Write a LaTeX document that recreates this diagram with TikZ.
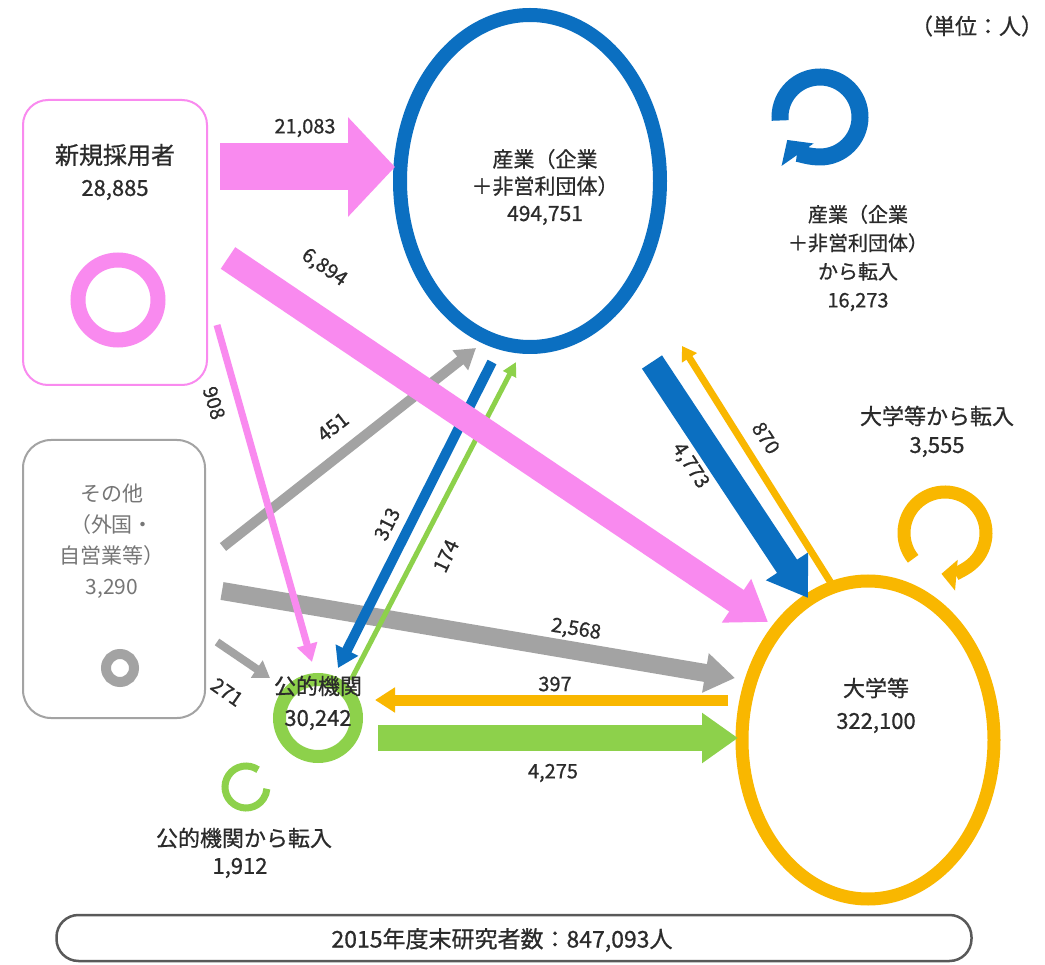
\documentclass[tikz,border=0pt]{standalone}
\usepackage{fontspec}
\setmainfont{Noto Sans CJK JP}
\newfontfamily\jpb{Noto Sans CJK JP}[FakeBold=0.8]
\usetikzlibrary{arrows.meta,shapes.geometric}
\definecolor{cpink}{HTML}{F98AEF}
\definecolor{cblue}{HTML}{0B6FC1}
\definecolor{corange}{HTML}{F9B700}
\definecolor{cgreen}{HTML}{8DD14B}
\definecolor{cgray}{HTML}{A3A3A3}
\definecolor{ctext}{HTML}{2B2B2B}
\definecolor{cgtext}{HTML}{767676}
\tikzset{
  txt/.style={text=ctext, inner sep=0pt, align=center, font=\jpb\fontsize{22}{29}\selectfont},
  num/.style={text=ctext, inner sep=0pt, font=\jpb\fontsize{20}{24}\selectfont},
  arr/.style n args={4}{draw=#1, line width=#2, arrows={-Triangle[length=#3,width=#4]}},
  ring/.style={draw=#1, fill=none},
}
\begin{document}
\begin{tikzpicture}[x=1pt,y=-1pt]
\useasboundingbox (0,0) rectangle (1045,965);
\fill[white] (0,0) rectangle (1045,965);

% boxes
\node[draw=cpink, line width=2pt, rounded corners=25pt, minimum width=184pt, minimum height=285pt] (newbox) at (115,242.5) {};
\node[draw=cgray, line width=2pt, rounded corners=28pt, minimum width=182pt, minimum height=278pt] (othbox) at (114,579) {};
\node[circle, ring=cpink, line width=15pt, minimum size=80pt, inner sep=0pt] (newring) at (118,300) {};
\node[circle, ring=cgray, line width=10pt, minimum size=28pt, inner sep=0pt] (othring) at (120,668) {};

% main circles
\node[ellipse, ring=cblue, line width=14pt, minimum width=260pt, minimum height=332pt, inner sep=0pt] (ind) at (530,181) {};
\node[ellipse, ring=corange, line width=13pt, minimum width=252pt, minimum height=318pt, inner sep=0pt] (univ) at (868,740) {};
\node[circle, ring=cgreen, line width=13pt, minimum size=77pt, inner sep=0pt] (pub) at (318,718) {};

% loops
\coordinate (bl) at (820,117);
\coordinate (ol) at (945,533);
\coordinate (gl) at (246,787);
\draw[cblue, line width=17pt, arrows={-Triangle[length=18pt,width=38pt]}]
  ([shift={(185:40pt)}]bl) arc[start angle=185, end angle=-145, radius=40pt];
\draw[corange, line width=13pt, arrows={-Triangle[length=15pt,width=30pt]}]
  ([shift={(219:41pt)}]ol) arc[start angle=219, end angle=-95, radius=41pt];
\draw[cgreen, line width=7pt]
  ([shift={(55:21pt)}]gl) arc[start angle=55, end angle=355, radius=21pt];

% arrow end points
\coordinate (a1s) at (220,167);  \coordinate (a1e) at (395,167);
\coordinate (a2s) at (228,258);  \coordinate (a2e) at (768,622);
\coordinate (a3s) at (217,325);  \coordinate (a3e) at (312,662);
\coordinate (a4s) at (223,547);  \coordinate (a4e) at (476,348);
\coordinate (a5s) at (222,591);  \coordinate (a5e) at (735,678);
\coordinate (a6s) at (217,642);  \coordinate (a6e) at (270,678);
\coordinate (a7s) at (492,362);  \coordinate (a7e) at (338,668);
\coordinate (a8s) at (351,680);  \coordinate (a8e) at (516,362);
\coordinate (a9s) at (652,362);  \coordinate (a9e) at (808,598);
\coordinate (a10s) at (831,583); \coordinate (a10e) at (682,346);
\coordinate (a11s) at (728,700); \coordinate (a11e) at (375,700);
\coordinate (a12s) at (378,738); \coordinate (a12e) at (738,738);

% gray flows
\draw[arr={cgray}{10pt}{20pt}{24pt}] (a4s) -- (a4e);
\draw[arr={cgray}{18pt}{30pt}{38pt}] (a5s) -- (a5e);
\draw[arr={cgray}{8pt}{16pt}{20pt}] (a6s) -- (a6e);
% public <-> industry
\draw[arr={cblue}{10pt}{20pt}{24pt}] (a7s) -- (a7e);
\draw[arr={cgreen}{5pt}{14pt}{14pt}] (a8s) -- (a8e);
% pink flows
\draw[arr={cpink}{47pt}{47pt}{97pt}] (a1s) -- (a1e);
\draw[arr={cpink}{26pt}{38pt}{50pt}] (a2s) -- (a2e);
\draw[arr={cpink}{7pt}{18pt}{20pt}] (a3s) -- (a3e);
% industry <-> university
\draw[arr={cblue}{24pt}{38pt}{48pt}] (a9s) -- (a9e);
\draw[arr={corange}{7pt}{14pt}{17pt}] (a10s) -- (a10e);
% public <-> university
\draw[arr={corange}{11pt}{20pt}{24pt}] (a11s) -- (a11e);
\draw[arr={cgreen}{26pt}{36pt}{48pt}] (a12s) -- (a12e);

% flow labels
\node[num] (l1) at (305,128) {21,083};
\node[num, rotate=-35] (l2) at (324,268) {6,894};
\node[num, rotate=-73] (l3) at (214,403) {908};
\node[num, rotate=38] (l4) at (333,427) {451};
\node[num, rotate=-9] (l5) at (576,630) {2,568};
\node[num, rotate=-35] (l6) at (227,692) {271};
\node[num, rotate=63] (l7) at (387,524) {313};
\node[num, rotate=65] (l8) at (446,556) {174};
\node[num, rotate=-57] (l9) at (690,466) {4,773};
\node[num, rotate=-57] (l10) at (766,438) {870};
\node[num] (l11) at (555,684) {397};
\node[num] (l12) at (553,773) {4,275};

% node labels
\node[txt] (unit) at (977,26) {（単位：人）};
\node[txt, font=\jpb\fontsize{24}{29}\selectfont] (newlab) at (115,155) {新規採用者};
\node[txt] (newnum) at (115,190) {28,885};
\node[txt, text=cgtext, font=\fontsize{21}{31}\selectfont] (othlab) at (112,541) {その他\\（外国・\\自営業等）\\3,290};
\node[txt, font=\jpb\fontsize{21}{27}\selectfont] (indlab) at (545,187) {産業（企業\\＋非営利団体）\\494,751};
\node[txt, font=\jpb\fontsize{20}{28.5}\selectfont] (indin) at (858,258) {産業（企業\\＋非営利団体）\\から転入\\16,273};
\node[txt] (univin) at (937,416) {大学等から転入};
\node[txt] (univinnum) at (937,447) {3,555};
\node[txt] (univlab) at (876,688) {大学等};
\node[txt] (univnum) at (876,723) {322,100};
\node[txt] (publab) at (318,686) {公的機関};
\node[txt] (pubnum) at (318,720) {30,242};
\node[txt] (pubin) at (244,838) {公的機関から転入};
\node[txt] (pubinnum) at (240,868) {1,912};

% total bar
\node[draw=black!65, line width=2.5pt, rounded corners=22pt, minimum width=915pt, minimum height=46pt, inner sep=0pt] (bar) at (514,938) {};
\node[txt, font=\jpb\fontsize{23}{28}\selectfont] (total) at (502,940) {2015年度末研究者数：847,093人};
\end{tikzpicture}
\end{document}
